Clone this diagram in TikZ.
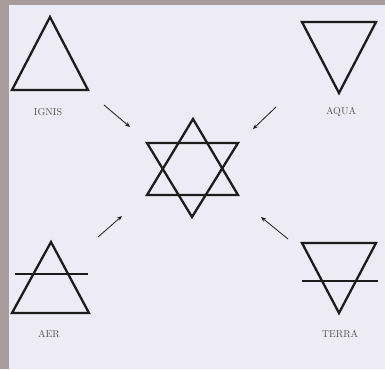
\documentclass[tikz,border=0pt]{standalone}
\usepackage{fontspec}
\usepackage{tikz}
\usetikzlibrary{arrows.meta}
\definecolor{frame}{HTML}{A79B9B}
\definecolor{paper}{HTML}{EDECF6}
\definecolor{ink}{HTML}{1C1C1E}

\begin{document}
\begin{tikzpicture}[x=1pt, y=-1pt,
                sym/.style={draw=ink, line width=2.3pt, line join=miter},
                bar/.style={draw=ink, line width=2pt},
                elemname/.style={font=\fontsize{10}{12}\selectfont\addfontfeatures{LetterSpace=9},
                text=ink!75, inner sep=0pt},
                arrow/.style={-{Stealth[length=5pt,width=4pt]}, line width=0.8pt, draw=ink}
            ]
        \useasboundingbox (0,0) rectangle (385,369);
        \fill[frame] (0,0) rectangle (385,369);
        \fill[paper] (9,5) rectangle (385,369);

        % the four elements
        \draw[sym] (50,17) -- (12,90) -- (88,90) -- cycle;
        \draw[sym] (302,22) -- (376,22) -- (339,93) -- cycle;
        \draw[sym] (51,242) -- (12,313) -- (89,313) -- cycle;
        \draw[bar] (15,274) -- (88,274);
        \draw[sym] (302,243) -- (376,243) -- (339,313) -- cycle;
        \draw[bar] (302,281) -- (378,281);

        % hexagram
        \draw[sym] (193,119) -- (147,195) -- (238,195) -- cycle;
        \draw[sym] (147,143) -- (238,143) -- (192,217) -- cycle;

        \node[elemname] (ignis) at (48,112)  {IGNIS};
        \node[elemname] (aqua)  at (341,112) {AQUA};
        \node[elemname] (aer)   at (49,334)  {AER};
        \node[elemname] (terra) at (340,334) {TERRA};

        \coordinate (ignisfrom) at (104,105);
        \coordinate (ignisto)   at (130,127);
        \coordinate (aquafrom)  at (276,107);
        \coordinate (aquato)    at (253,129);
        \coordinate (aerfrom)   at (98,237);
        \coordinate (aerto)     at (122,216);
        \coordinate (terrafrom) at (288,239);
        \coordinate (terrato)   at (261,217);

        \draw[arrow] (ignisfrom) -- (ignisto);
        \draw[arrow] (aquafrom)  -- (aquato);
        \draw[arrow] (aerfrom)   -- (aerto);
        \draw[arrow] (terrafrom) -- (terrato);
            \end{tikzpicture}
\end{document}
